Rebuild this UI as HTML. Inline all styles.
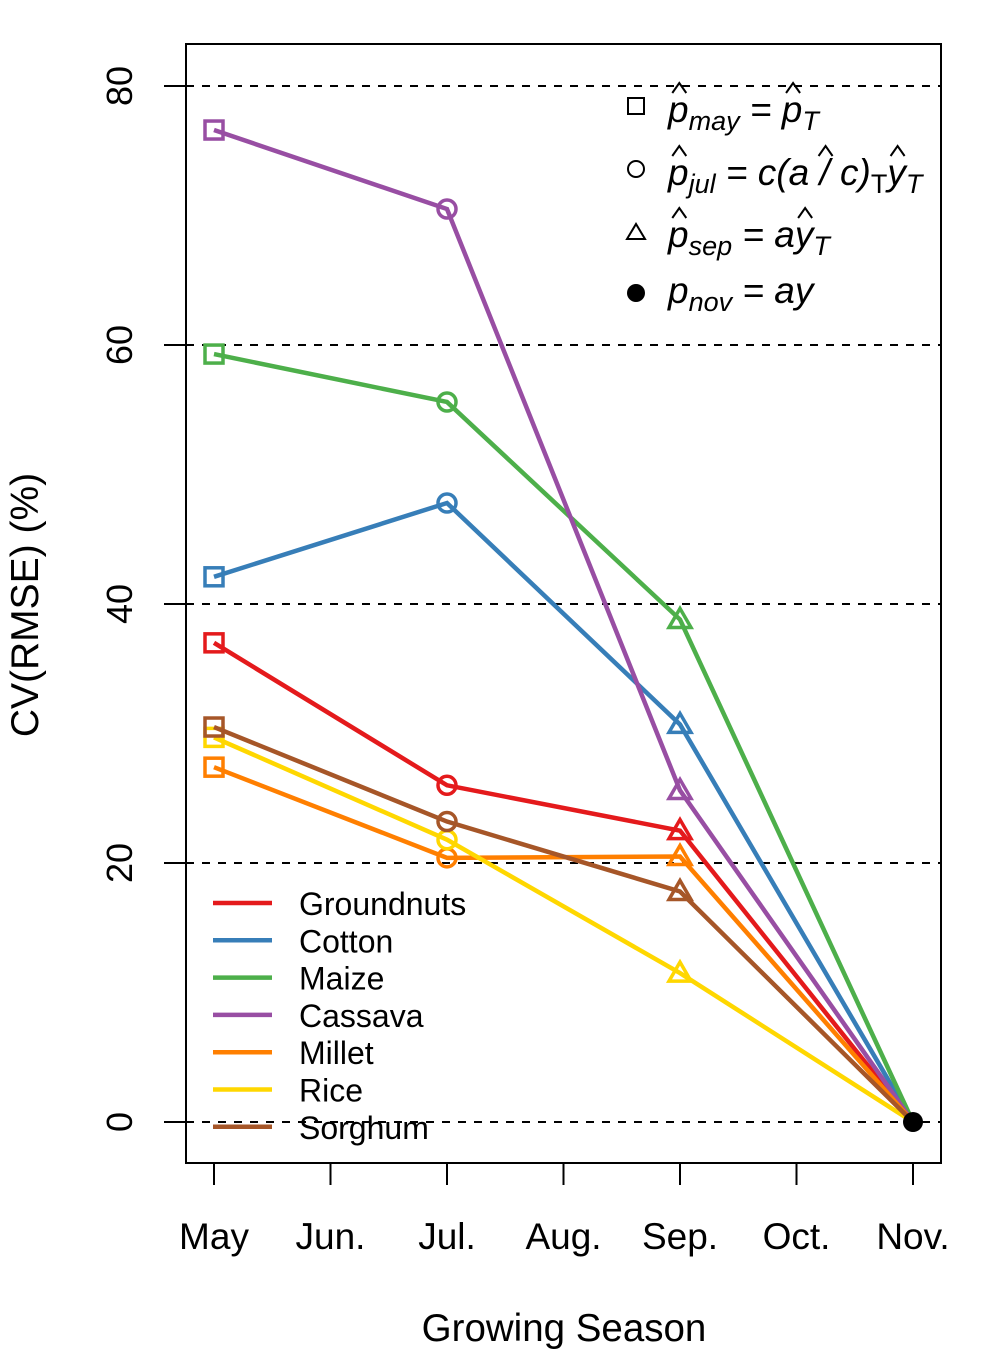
<!DOCTYPE html>
<html><head><meta charset="utf-8"><style>body{margin:0;background:#fff}svg{display:block;font-family:"Liberation Sans",sans-serif}</style></head>
<body>
<svg id="c" width="987" height="1350" viewBox="0 0 987 1350">
<rect x="186" y="44" width="755" height="1119" fill="none" stroke="#000" stroke-width="2"/>
<g id="grid"></g><g id="axes"></g><g id="series"></g>
<text x="564" y="1341" font-size="38.5" text-anchor="middle">Growing Season</text>
<text transform="translate(38,605) rotate(-90)" font-size="39" text-anchor="middle">CV(RMSE) (%)</text>
<g id="mleg" font-size="37" font-style="italic">
<rect x="628" y="98" width="16" height="16" fill="none" stroke="#000" stroke-width="2"/>
<text id="f1" x="668" y="122">p<tspan font-size="27" dy="8">may</tspan><tspan dy="-8"> = </tspan><tspan>p</tspan><tspan font-size="27" dy="8">T</tspan></text>
<circle cx="636" cy="169" r="8" fill="none" stroke="#000" stroke-width="2"/>
<text id="f2" x="668" y="185">p<tspan font-size="27" dy="8">jul</tspan><tspan dy="-8"> = c(</tspan><tspan>a</tspan><tspan> / c)</tspan><tspan font-size="27" dy="8" font-style="normal">T</tspan><tspan dy="-8">y</tspan><tspan font-size="27" dy="8">T</tspan></text>
<path d="M627 239 L636 224 L645 239 Z" fill="none" stroke="#000" stroke-width="2"/>
<text id="f3" x="668" y="247">p<tspan font-size="27" dy="8">sep</tspan><tspan dy="-8"> = a</tspan><tspan>y</tspan><tspan font-size="27" dy="8">T</tspan></text>
<circle cx="636" cy="293" r="9" fill="#000"/>
<text x="668" y="303">p<tspan font-size="27" dy="8">nov</tspan><tspan dy="-8"> = ay</tspan></text>
</g>
<g id="legend"></g>
</svg>
<script>
const months=["May","Jun.","Jul.","Aug.","Sep.","Oct.","Nov."];
const yTicks=[0,20,40,60,80];
const crops=["Groundnuts","Cotton","Maize","Cassava","Millet","Rice","Sorghum"];
const colors=["#E41A1C","#377EB8","#4DAF4A","#984EA3","#FF7F00","#FFD700","#A65628"];
const groundnuts=[37,26,22.5,0];
const cotton=[42.1,47.8,30.7,0];
const maize=[59.3,55.6,38.8,0];
const cassava=[76.6,70.5,25.6,0];
const millet=[27.4,20.4,20.5,0];
const rice=[29.7,21.8,11.5,0];
const sorghum=[30.5,23.2,17.8,0];
const seriesData=[groundnuts,cotton,maize,cassava,millet,rice,sorghum];
const pointMonths=[0,2,4,6];
const NS="http://www.w3.org/2000/svg";
const X=i=>214+i*116.5, Y=v=>1122-v*12.95;
function mk(t,a,p){const e=document.createElementNS(NS,t);for(const k in a)e.setAttribute(k,a[k]);p.appendChild(e);return e;}
const grid=document.getElementById('grid'),axes=document.getElementById('axes'),ser=document.getElementById('series'),leg=document.getElementById('legend');
yTicks.forEach(v=>{
 const l=mk('line',{x1:186,x2:941,y1:Y(v),y2:Y(v),stroke:'#000','stroke-width':2,'stroke-dasharray':'8,8'},grid);
 
 
 const tk=mk('line',{x1:164,x2:186,y1:Y(v),y2:Y(v),stroke:'#000','stroke-width':2},axes);
 
 
 const t=mk('text',{transform:`translate(132,${Y(v)}) rotate(-90)`,'font-size':36,'text-anchor':'middle'},axes);
 t.textContent=v;
 
 
});
months.forEach((m,i)=>{
 const tk=mk('line',{x1:X(i),x2:X(i),y1:1163,y2:1185,stroke:'#000','stroke-width':2},axes);
 
 
 const t=mk('text',{x:X(i),y:1249,'font-size':37,'text-anchor':'middle'},axes);
 t.textContent=m;
 
 
});
seriesData.forEach((d,s)=>{
 const c=colors[s];
 const g=mk('g',{},ser);
 
 
 mk('polyline',{points:d.map((v,i)=>X(pointMonths[i])+','+Y(v)).join(' '),fill:'none',stroke:c,'stroke-width':4.5},g);
 d.forEach((v,i)=>{
  const x=X(pointMonths[i]),y=Y(v);let e;
  if(i==0)e=mk('rect',{x:x-9,y:y-9,width:18,height:18,fill:'none',stroke:c,'stroke-width':3.5},g);
  else if(i==1)e=mk('circle',{cx:x,cy:y,r:9,fill:'none',stroke:c,'stroke-width':3.5},g);
  else if(i==2)e=mk('path',{d:`M${x-11} ${y+8} L${x} ${y-11} L${x+11} ${y+8} Z`,fill:'none',stroke:c,'stroke-width':3.5},g);
  else return;
  
  
 });
});
const nov=mk('circle',{cx:X(6),cy:Y(0),r:10,fill:'#000'},ser);


crops.forEach((n,i)=>{
 const y=903+i*37.3;
 const l=mk('line',{x1:213,x2:272,y1:y,y2:y,stroke:colors[i],'stroke-width':4.5},leg);
 
 
 const t=mk('text',{x:299,y:y+12,'font-size':32},leg);
 t.textContent=n;
 
 
});
const mleg=document.getElementById('mleg');
function hat(id,idx){
 const t=document.getElementById(id);
 const b=t.getExtentOfChar(idx);
 mk('path',{d:`M${b.x+b.width/2-6} ${b.y+4} L${b.x+b.width/2+1} ${b.y-6} L${b.x+b.width/2+8} ${b.y+4}`,fill:'none',stroke:'#000','stroke-width':2},mleg);
}
[['f1',0],['f1',7],['f2',0],['f2',11],['f2',16],['f3',0],['f3',8]].forEach(h=>{try{hat(h[0],h[1])}catch(e){}});
</script>
</body></html>
